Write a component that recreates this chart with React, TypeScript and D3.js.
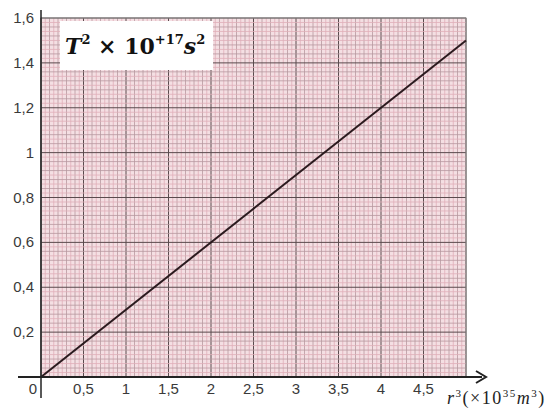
import React from "react";
import * as d3 from "d3";

const xTickValues = [0.5, 1, 1.5, 2, 2.5, 3, 3.5, 4, 4.5];
const xTickLabels = ["0,5", "1", "1,5", "2", "2,5", "3", "3,5", "4", "4,5"];
const yTickValues = [0.2, 0.4, 0.6, 0.8, 1, 1.2, 1.4, 1.6];
const yTickLabels = ["0,2", "0,4", "0,6", "0,8", "1", "1,2", "1,4", "1,6"];
const r3Values = [0, 5];
const t2Values = [0, 1.5];

const W = 556;
const H = 410;

export default function App() {
  const x = d3.scaleLinear().domain([0, 5]).range([41, 466]);
  const y = d3.scaleLinear().domain([0, 1.6]).range([377, 18]);

  const fineX = d3.range(0, 100 + 1).map((i) => i * 0.05);
  const fineY = d3.range(0, 80 + 1).map((i) => i * 0.02);

  const linePts = r3Values.map((v, i) => [v, t2Values[i]] as [number, number]);
  const path = d3
    .line<[number, number]>()
    .x((d) => x(d[0]))
    .y((d) => y(d[1]))(linePts);

  const x0 = x(0), x1 = x(5), y0 = y(0), y1 = y(1.6);

  return (
    <svg
      width={W}
      height={H}
      style={{ position: "absolute", left: 0, top: 0, background: "#fff" }}
      fontFamily="Liberation Sans, Arial, sans-serif"
    >
      <rect x={x0} y={y1} width={x1 - x0} height={y0 - y1} fill="#f4dfe3" />
      {/* fine graph-paper grid */}
      {fineX.map((v, i) => {
        const kind = i % 10 === 0 ? 2 : i % 2 === 0 ? 1 : 0;
        return (
          <line
            key={"gx" + i}
            x1={x(v)}
            x2={x(v)}
            y1={y1}
            y2={y0}
            stroke={kind === 2 ? "#5a4a4d" : kind === 1 ? "#b8989f" : "#e0afb9"}
            strokeWidth={kind === 2 ? 1 : 0.8}
          />
        );
      })}
      {fineY.map((v, i) => {
        const kind = i % 10 === 0 ? 2 : i % 2 === 0 ? 1 : 0;
        return (
          <line
            key={"gy" + i}
            y1={y(v)}
            y2={y(v)}
            x1={x0}
            x2={x1}
            stroke={kind === 2 ? "#5a4a4d" : kind === 1 ? "#b8989f" : "#e0afb9"}
            strokeWidth={kind === 2 ? 1 : 0.8}
          />
        );
      })}
      <rect x={x0} y={y1} width={x1 - x0} height={y0 - y1} fill="none" stroke="#888" strokeWidth={1} />

      {/* title box */}
      <rect x={60} y={21} width={153} height={49} fill="#fff" />
      <text x={65} y={54} fontFamily="DejaVu Serif, serif" fontWeight="bold" fontSize={22} fill="#111">
        <tspan fontStyle="italic">T</tspan>
        <tspan fontSize={13} dy={-10}>2</tspan>
        <tspan dy={10}> × 10</tspan>
        <tspan fontSize={13} dy={-10}>+17</tspan>
        <tspan dy={10} fontStyle="italic">s</tspan>
        <tspan fontSize={13} dy={-10}>2</tspan>
      </text>

      {/* data line */}
      <path d={path ?? ""} fill="none" stroke="#2b1a1e" strokeWidth={2} />

      {/* axes */}
      <line x1={x0} x2={x0} y1={10} y2={398} stroke="#222" strokeWidth={1.5} />
      <line x1={18} x2={482} y1={y0} y2={y0} stroke="#222" strokeWidth={2} />
      <path d={`M476,${y0 - 6} L486,${y0} L476,${y0 + 6}`} fill="none" stroke="#222" strokeWidth={2} />

      {yTickValues.map((v, i) => (
        <text key={"yl" + i} x={34} y={y(v) + 5} textAnchor="end" fontSize={15} fill="#3a3a3a">
          {yTickLabels[i]}
        </text>
      ))}
      <text x={37} y={394} textAnchor="end" fontSize={15} fill="#3a3a3a">0</text>
      {xTickValues.map((v, i) => (
        <text key={"xl" + i} x={x(v)} y={394} textAnchor="middle" fontSize={15} fill="#3a3a3a">
          {xTickLabels[i]}
        </text>
      ))}

      <text x={447} y={404} fontFamily="Liberation Serif, serif" fontSize={18} fill="#222" letterSpacing={1.5}>
        <tspan fontStyle="italic">r</tspan>
        <tspan fontSize={11} dy={-7}>3</tspan>
        <tspan dy={7}>(×10</tspan>
        <tspan fontSize={11} dy={-7}>35</tspan>
        <tspan dy={7} fontStyle="italic">m</tspan>
        <tspan fontSize={11} dy={-7}>3</tspan>
        <tspan dy={7}>)</tspan>
      </text>
    </svg>
  );
}
